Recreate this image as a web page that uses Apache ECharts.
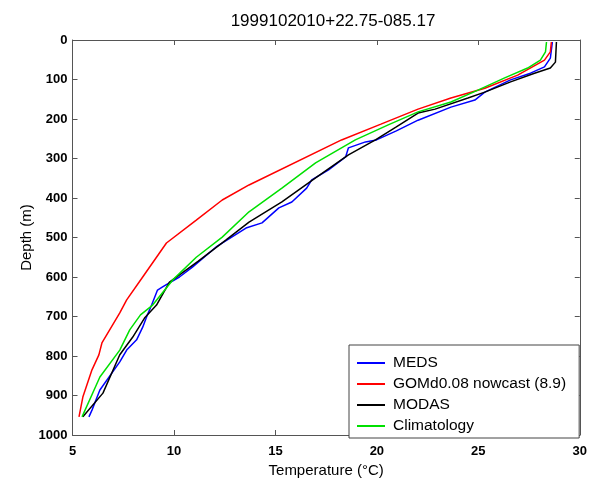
<!DOCTYPE html>
<html>
<head>
<meta charset="utf-8">
<script src="https://cdn.jsdelivr.net/npm/echarts@6/dist/echarts.min.js"></script>
<style>html,body{margin:0;padding:0;background:#fff;}#c{width:590px;height:487px;}</style>
</head>
<body>
<div id="c"></div>
<script>
var titleText = '1999102010+22.75-085.17';
var seriesNames = ['MEDS', 'GOMd0.08 nowcast (8.9)', 'MODAS', 'Climatology'];
var seriesColors = ['#0000ff', '#ff0000', '#000000', '#00e000'];

var medsDepth = [5, 46, 68, 84, 101, 132, 152, 170, 203, 230, 253, 258, 273, 296, 329, 354, 375, 410, 425, 463, 476, 524, 575, 600, 625, 633, 671, 701, 727, 759, 785, 815, 886, 937, 954];
var medsTemp  = [28.65, 28.55, 28.26, 27.57, 26.59, 25.32, 24.83, 23.65, 22.03, 20.96, 19.98, 19.44, 18.60, 18.46, 17.62, 16.79, 16.54, 15.81, 15.17, 14.34, 13.55, 12.08, 10.91, 10.27, 9.44, 9.19, 8.90, 8.65, 8.46, 8.16, 7.67, 7.33, 6.35, 5.96, 5.81];

var gomDepth = [5, 30, 51, 89, 122, 147, 175, 213, 253, 367, 405, 456, 514, 600, 658, 691, 767, 797, 835, 904, 954];
var gomTemp  = [28.60, 28.55, 28.26, 26.94, 25.32, 23.65, 22.03, 20.2, 18.26, 13.70, 12.38, 11.10, 9.63, 8.46, 7.67, 7.33, 6.45, 6.30, 5.96, 5.51, 5.32];

var modasDepth = [5, 56, 71, 84, 106, 132, 147, 175, 185, 220, 253, 291, 349, 410, 461, 506, 560, 613, 671, 704, 752, 797, 894, 954];
var modasTemp  = [28.85, 28.80, 28.55, 27.77, 26.59, 25.32, 24.49, 22.87, 22.03, 20.96, 19.93, 18.60, 16.98, 15.32, 13.70, 12.57, 11.2, 9.78, 9.14, 8.55, 7.97, 7.33, 6.50, 5.51];

var climDepth = [5, 30, 51, 71, 96, 127, 157, 182, 215, 253, 311, 375, 435, 499, 550, 608, 671, 696, 734, 785, 853, 954];
var climTemp  = [28.36, 28.31, 28.06, 27.43, 26.30, 24.98, 23.65, 22.03, 20.56, 18.94, 16.98, 15.32, 13.70, 12.38, 11.1, 9.93, 8.95, 8.35, 7.82, 7.33, 6.35, 5.47];

var xTicks = [5, 10, 15, 20, 25, 30];
var yTicks = [0, 100, 200, 300, 400, 500, 600, 700, 800, 900, 1000];

function pairs(t, d) { return t.map(function (v, i) { return [v, d[i]]; }); }
var allData = [pairs(medsTemp, medsDepth), pairs(gomTemp, gomDepth), pairs(modasTemp, modasDepth), pairs(climTemp, climDepth)];

var FONT = 'Liberation Sans, Arial, sans-serif';
var axisLineStyle = { color: '#555', width: 1 };
function plain(v) { return String(v); }

var chart = echarts.init(document.getElementById('c'), null, { renderer: 'canvas' });
var option = {
  animation: false,
  backgroundColor: '#ffffff',
  title: {
    text: titleText,
    left: 328, top: 8, textAlign: 'center',
    textStyle: { fontFamily: FONT, fontSize: 17, fontWeight: 'normal', color: '#000' }
  },
  grid: { left: 72.5, right: 7, top: 40, bottom: 52, containLabel: false },
  legend: {
    data: seriesNames.map(function (n) { return { name: n, icon: 'rect' }; }),
    orient: 'vertical',
    left: 349, top: 345,
    padding: [10, 13, 4, 8],
    itemGap: 5,
    itemWidth: 28, itemHeight: 2,
    backgroundColor: '#ffffff',
    borderColor: '#444', borderWidth: 1, borderRadius: 0,
    textStyle: { fontFamily: FONT, fontSize: 15.5, color: '#000', lineHeight: 16, padding: [0, 0, 0, 3] }
  },
  xAxis: [{
    type: 'value', min: xTicks[0], max: xTicks[xTicks.length - 1], interval: 5,
    name: 'Temperature (°C)', nameLocation: 'middle', nameGap: 28, nameMoveOverlap: false,
    nameTextStyle: { fontFamily: FONT, fontSize: 15, color: '#000' },
    axisLine: { show: true, onZero: false, lineStyle: axisLineStyle },
    axisTick: { show: true, inside: true, length: 5, lineStyle: axisLineStyle },
    axisLabel: { fontFamily: FONT, fontSize: 13, fontWeight: 'bold', color: '#000', margin: 10, formatter: plain },
    splitLine: { show: false }
  }, {
    type: 'value', position: 'top', min: xTicks[0], max: xTicks[xTicks.length - 1], interval: 5,
    axisLine: { show: true, onZero: false, lineStyle: axisLineStyle },
    axisTick: { show: true, inside: true, length: 5, lineStyle: axisLineStyle },
    axisLabel: { show: false }, splitLine: { show: false }
  }],
  yAxis: [{
    type: 'value', inverse: true, min: yTicks[0], max: yTicks[yTicks.length - 1], interval: 100,
    name: 'Depth (m)', nameLocation: 'middle', nameGap: 38, nameRotate: 90, nameMoveOverlap: false,
    nameTextStyle: { fontFamily: FONT, fontSize: 15, color: '#000' },
    axisLine: { show: true, onZero: false, lineStyle: axisLineStyle },
    axisTick: { show: true, inside: true, length: 5, lineStyle: axisLineStyle },
    axisLabel: { fontFamily: FONT, fontSize: 13, fontWeight: 'bold', color: '#000', margin: 5, formatter: plain },
    splitLine: { show: false }
  }, {
    type: 'value', position: 'right', inverse: true, min: yTicks[0], max: yTicks[yTicks.length - 1], interval: 100,
    axisLine: { show: true, onZero: false, lineStyle: axisLineStyle },
    axisTick: { show: true, inside: true, length: 5, lineStyle: axisLineStyle },
    axisLabel: { show: false }, splitLine: { show: false }
  }],
  series: seriesNames.map(function (n, i) {
    return {
      name: n, type: 'line', xAxisIndex: 0, yAxisIndex: 0,
      data: allData[i], symbol: 'none', smooth: false,
      lineStyle: { color: seriesColors[i], width: 1.5 },
      itemStyle: { color: seriesColors[i] },
      z: 2 + i
    };
  })
};
chart.setOption(option);
</script>
</body>
</html>
